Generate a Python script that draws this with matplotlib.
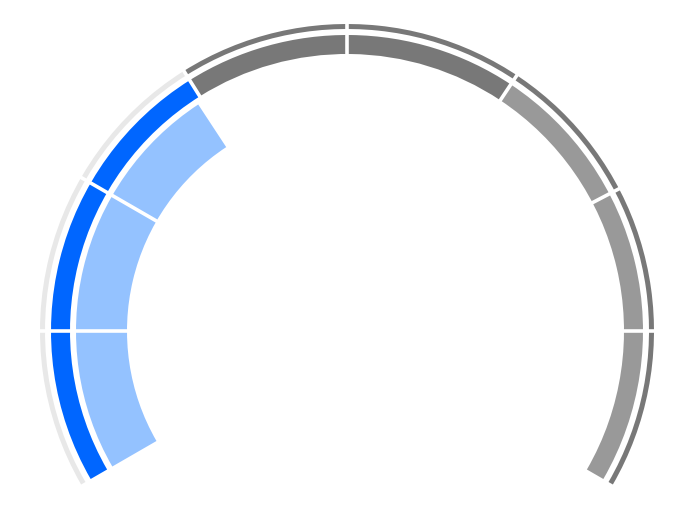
import numpy as np
import matplotlib.pyplot as plt
from matplotlib.patches import Wedge

# gauge scale 0..80, band edges
scale_min, scale_max = 0, 80
band_edges = [0, 10, 20, 29.3, 40, 51.2, 60.8, 70, 80]
value = 28.9

# outer thin ring: (start, end, colour)
outer_bands = [(0, 29.3, '#e8e8e8'), (29.3, 80, '#787878')]
# middle ring
middle_bands = [(0, 29.3, '#0066ff'), (29.3, 51.2, '#787878'), (51.2, 80, '#999999')]
inner_color = '#94c2ff'

start_ang, sweep = 210, 240
cx, cy = 347, 512 - 331


def to_ang(v):
    return start_ang - (v - scale_min) / (scale_max - scale_min) * sweep


fig = plt.figure(figsize=(6.94, 5.12), dpi=100)
ax = fig.add_axes([0, 0, 1, 1])
ax.set_xlim(0, 694)
ax.set_ylim(0, 512)
ax.set_aspect('equal')
ax.axis('off')

for a, b, c in outer_bands:
    ax.add_patch(Wedge((cx, cy), 307, to_ang(b), to_ang(a), width=5, color=c, lw=0))
for a, b, c in middle_bands:
    ax.add_patch(Wedge((cx, cy), 296, to_ang(b), to_ang(a), width=19, color=c, lw=0))
ax.add_patch(Wedge((cx, cy), 271, to_ang(value), to_ang(scale_min), width=51,
                   color=inner_color, lw=0))

# white separators between bands
for e in band_edges[1:-1]:
    t = np.deg2rad(to_ang(e))
    r = np.array([210, 315])
    ax.plot(cx + r * np.cos(t), cy + r * np.sin(t), color='white', lw=2.6,
            solid_capstyle='butt')

fig.savefig('out.png', dpi=100)
